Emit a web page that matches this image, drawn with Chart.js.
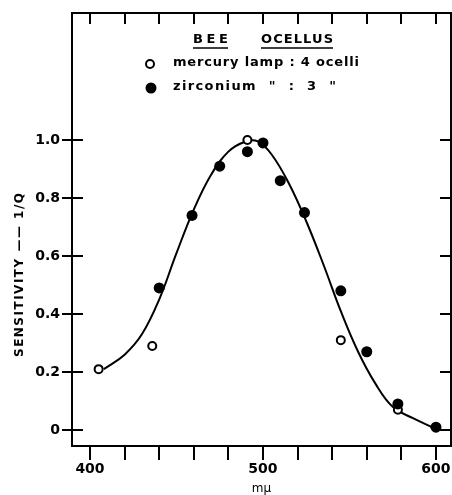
<!DOCTYPE html>
<html>
<head>
<meta charset="utf-8">
<script src="https://cdn.jsdelivr.net/npm/chart.js@4/dist/chart.umd.min.js"></script>
<style>
html,body{margin:0;padding:0;background:#fff;}
#wrap{width:452px;height:495px;position:relative;}
</style>
</head>
<body>
<div id="wrap"><canvas id="c" width="452" height="495"></canvas></div>
<script>
// ---- data ----
const mercuryX = [405, 436, 491, 545, 578];
const mercuryY = [0.21, 0.29, 1.0, 0.31, 0.07];
const zirconiumX = [440, 459, 475, 491, 500, 510, 524, 545, 560, 578, 600];
const zirconiumY = [0.49, 0.74, 0.91, 0.96, 0.99, 0.86, 0.75, 0.48, 0.27, 0.09, 0.01];
const curveX = [408, 420, 430, 440, 450, 460, 470, 480, 490, 497, 505, 515, 525, 535, 545, 555, 565, 575, 587, 599];
const curveY = [0.21, 0.26, 0.33, 0.45, 0.61, 0.76, 0.88, 0.96, 0.995, 0.995, 0.95, 0.85, 0.72, 0.57, 0.41, 0.27, 0.16, 0.08, 0.04, 0.007];
const xTickMarks = [400, 420, 440, 460, 480, 500, 520, 540, 560, 580, 600];
const xTickLabels = [400, 500, 600];
const yTickMarks = [0, 0.2, 0.4, 0.6, 0.8, 1.0];
const yTickLabels = ['0', '0.2', '0.4', '0.6', '0.8', '1.0'];
const titleText = ['BEE', 'OCELLUS'];
const legendMercury = 'mercury lamp : 4 ocelli';
const legendZirconium = 'zirconium  "  :  3  "';
const xTitle = 'mμ';
const yTitle = 'SENSITIVITY —— 1/Q';

const toPts = (xs, ys) => xs.map((x, i) => ({x: x, y: ys[i]}));
const FONT = '"DejaVu Sans", sans-serif';

function fitText(ctx, text, x, y, w) {
  ctx.letterSpacing = '0px';
  const nat = ctx.measureText(text).width;
  const sp = text.length > 1 ? (w - nat) / (text.length - 1) : 0;
  ctx.letterSpacing = sp + 'px';
  ctx.fillText(text, x, y);
  ctx.letterSpacing = '0px';
}

const framePlugin = {
  id: 'frame',
  afterDraw(chart) {
    const ctx = chart.ctx;
    const a = chart.chartArea;
    const xs = chart.scales.x, ys = chart.scales.y;
    ctx.save();
    ctx.strokeStyle = '#000';
    ctx.fillStyle = '#000';
    ctx.lineWidth = 2;
    ctx.strokeRect(a.left, a.top, a.right - a.left, a.bottom - a.top);
    ctx.beginPath();
    xTickMarks.forEach(v => {
      const px = Math.round(xs.getPixelForValue(v));
      ctx.moveTo(px, a.bottom); ctx.lineTo(px, a.bottom + 14);
      ctx.moveTo(px, a.top); ctx.lineTo(px, a.top + 11);
    });
    yTickMarks.forEach(v => {
      const py = Math.round(ys.getPixelForValue(v));
      ctx.moveTo(a.left - 10, py); ctx.lineTo(a.left + 11, py);
      ctx.moveTo(a.right - 11, py); ctx.lineTo(a.right, py);
    });
    ctx.stroke();

    // heading
    ctx.font = 'bold 13px ' + FONT;
    ctx.textBaseline = 'middle';
    ctx.textAlign = 'left';
    fitText(ctx, titleText[0], 193, 40, 35);
    fitText(ctx, titleText[1], 261, 40, 72);
    ctx.lineWidth = 1.5;
    ctx.beginPath();
    ctx.moveTo(193, 48); ctx.lineTo(228, 48);
    ctx.moveTo(261, 48); ctx.lineTo(333, 48);
    ctx.stroke();

    // legend
    ctx.font = 'bold 13px ' + FONT;
    ctx.lineWidth = 2;
    ctx.beginPath(); ctx.arc(150, 64, 4, 0, Math.PI * 2); ctx.stroke();
    ctx.beginPath(); ctx.arc(151, 88, 5.5, 0, Math.PI * 2); ctx.fill();
    fitText(ctx, legendMercury, 173, 63, 186);
    fitText(ctx, legendZirconium, 173, 87, 163);

    // axis titles
    ctx.font = '12px ' + FONT;
    ctx.textAlign = 'center';
    ctx.fillText(xTitle, (a.left + a.right) / 2, 489);
    ctx.save();
    ctx.translate(20, 275);
    ctx.rotate(-Math.PI / 2);
    ctx.textAlign = 'left';
    ctx.font = 'bold 12px ' + FONT;
    fitText(ctx, yTitle, -82, 0, 164);
    ctx.restore();
    ctx.restore();
  }
};

function zeroPad(s) { s.paddingTop = 0; s.paddingBottom = 0; s.paddingLeft = 0; s.paddingRight = 0; }

new Chart(document.getElementById('c'), {
  type: 'scatter',
  data: {
    datasets: [
      {
        type: 'line',
        data: toPts(curveX, curveY),
        borderColor: '#000',
        borderWidth: 2,
        pointRadius: 0,
        fill: false,
        tension: 0.4,
        order: 3
      },
      {
        data: toPts(mercuryX, mercuryY),
        pointRadius: 4,
        pointBorderWidth: 2,
        pointBorderColor: '#000',
        pointBackgroundColor: '#fff',
        order: 2
      },
      {
        data: toPts(zirconiumX, zirconiumY),
        pointRadius: 5.5,
        pointBorderWidth: 0,
        pointBackgroundColor: '#000',
        pointBorderColor: '#000',
        order: 1
      }
    ]
  },
  options: {
    responsive: false,
    animation: false,
    devicePixelRatio: 1,
    layout: {autoPadding: false, padding: {top: 13, right: 1, left: 0, bottom: 0}},
    plugins: {legend: {display: false}, tooltip: {enabled: false}, title: {display: false}},
    scales: {
      x: {
        type: 'linear',
        min: 389.6,
        max: 608.7,
        grid: {display: false, drawTicks: false},
        border: {display: false},
        afterBuildTicks: s => { s.ticks = xTickMarks.map(v => ({value: v})); },
        afterFit: s => { s.height = 49; zeroPad(s); },
        ticks: {
          color: '#000',
          font: {family: FONT, size: 14, weight: 'bold'},
          padding: 15,
          maxRotation: 0,
          autoSkip: false,
          callback: v => xTickLabels.includes(v) ? String(v) : ''
        }
      },
      y: {
        type: 'linear',
        min: -0.055,
        max: 1.438,
        grid: {display: false, drawTicks: false},
        border: {display: false},
        afterBuildTicks: s => { s.ticks = yTickMarks.map(v => ({value: v})); },
        afterFit: s => { s.width = 72; zeroPad(s); },
        ticks: {
          color: '#000',
          font: {family: FONT, size: 14, weight: 'bold'},
          padding: 12,
          autoSkip: false,
          callback: (v) => { const i = yTickMarks.findIndex(t => Math.abs(t - v) < 1e-9); return i >= 0 ? yTickLabels[i] : ''; }
        }
      }
    }
  },
  plugins: [framePlugin]
});
</script>
</body>
</html>
